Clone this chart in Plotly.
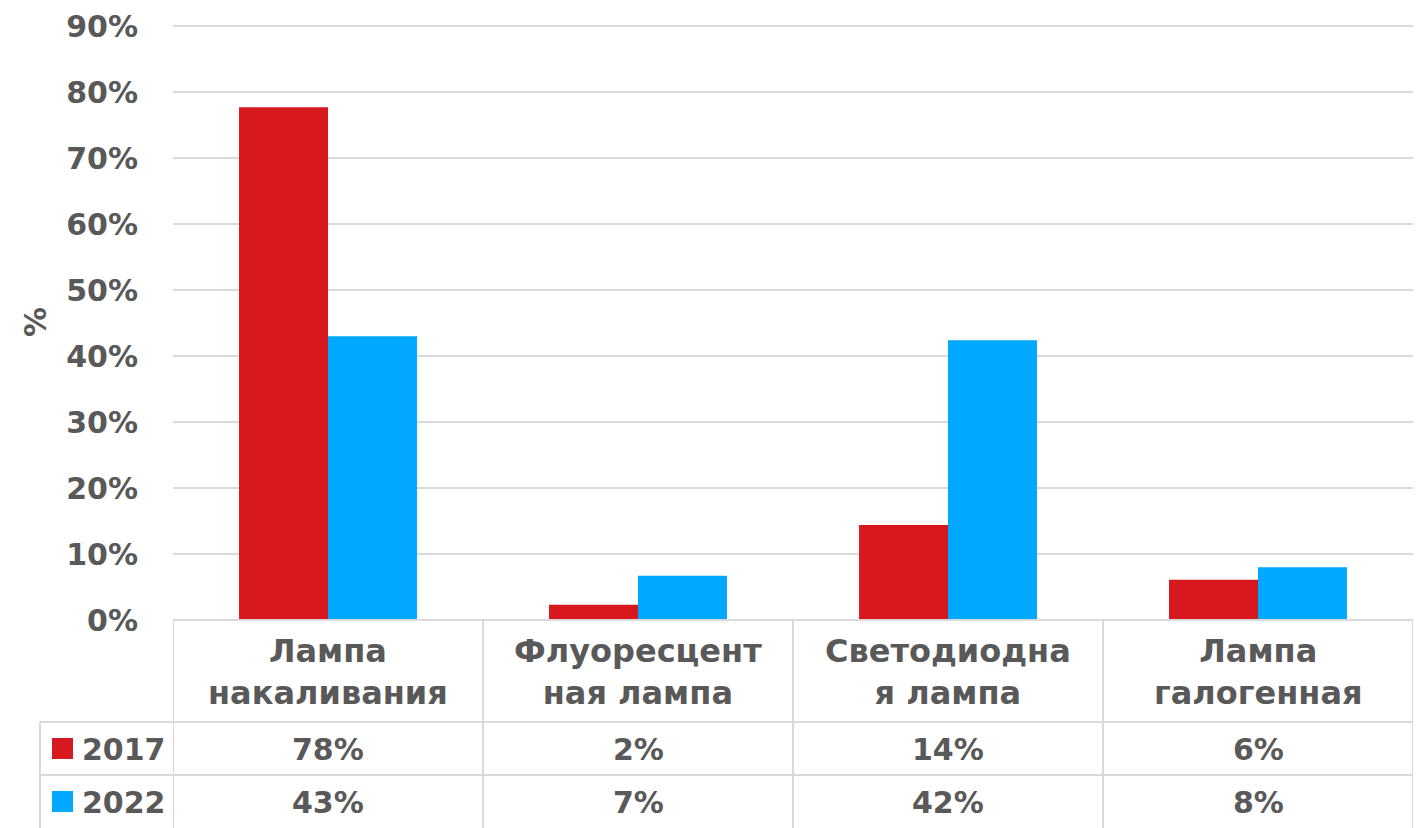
import plotly.graph_objects as go

categories = ["Лампа<br>накаливания", "Флуоресцент<br>ная лампа", "Светодиодна<br>я лампа", "Лампа<br>галогенная"]
series_names = ["2017", "2022"]
values_2017 = [0.777, 0.023, 0.144, 0.061]
values_2022 = [0.430, 0.067, 0.424, 0.080]
series_values = [values_2017, values_2022]
colors = ["#D7191F", "#00A9FF"]

TEXT = "#595959"
GRID = "#D9D9D9"
FONT = "DejaVu Sans"
OFF = 8  # page body margin
W, H = 1422 - OFF, 828 - OFF
PLOT_TOP = 23   # screenshot pixel of plot-area top
ZERO_Y = 620    # screenshot pixel of 0%
TOP90_Y = 26    # screenshot pixel of 90%
L, R, T, B = 173 - OFF, 9, PLOT_TOP - OFF, 828 - ZERO_Y
YMAX = 0.9 * (ZERO_Y - PLOT_TOP) / (ZERO_Y - TOP90_Y)


def py(pix):
    return (ZERO_Y - pix) / (ZERO_Y - PLOT_TOP)


def px(pix):
    return (pix - 173) / (W - L - R)


fig = go.Figure()
for name, vals, col in zip(series_names, series_values, colors):
    fig.add_trace(go.Bar(x=list(range(len(categories))), y=vals, name=name,
                         marker=dict(color=col, line=dict(width=0)), showlegend=False))

shapes = []
annotations = []
n = len(categories)
for i in range(n + 1):
    shapes.append(dict(type="line", xref="x", yref="paper", x0=i - 0.5, x1=i - 0.5,
                       y0=py(620), y1=py(830), line=dict(color=GRID, width=2)))
shapes.append(dict(type="line", xref="paper", yref="paper", x0=px(40), x1=px(40),
                   y0=py(722), y1=py(830), line=dict(color=GRID, width=2)))
shapes.append(dict(type="line", xref="paper", yref="paper", x0=0, x1=1,
                   y0=py(620), y1=py(620), line=dict(color=GRID, width=2)))
for yy in (722, 775):
    shapes.append(dict(type="line", xref="paper", yref="paper", x0=px(40), x1=1,
                       y0=py(yy), y1=py(yy), line=dict(color=GRID, width=2)))

fs = 30
def bold(s):
    return "<br>".join(f"<b>{p}</b>" for p in s.split("<br>"))

for i, c in enumerate(categories):
    annotations.append(dict(x=i, y=py(672), xref="x", yref="paper", text=bold(c), showarrow=False,
                            font=dict(family=FONT, size=32, color=TEXT), align="center",
                            yanchor="middle", xanchor="center"))
row_y = [749, 802]
for r, (name, vals, col) in enumerate(zip(series_names, series_values, colors)):
    for i, v in enumerate(vals):
        annotations.append(dict(x=i, y=py(row_y[r]), xref="x", yref="paper",
                                text=f"<b>{round(v * 100)}%</b>", showarrow=False,
                                font=dict(family=FONT, size=fs, color=TEXT),
                                yanchor="middle", xanchor="center"))
    annotations.append(dict(x=px(80), y=py(row_y[r]), xref="paper", yref="paper",
                            text=f"<b>{name}</b>", showarrow=False,
                            font=dict(family=FONT, size=fs, color=TEXT),
                            yanchor="middle", xanchor="left"))
    shapes.append(dict(type="rect", xref="paper", yref="paper", x0=px(52), x1=px(73),
                       y0=py(row_y[r] + 10), y1=py(row_y[r] - 11),
                       fillcolor=col, line=dict(width=0)))

annotations.append(dict(x=px(35), y=py(322), xref="paper", yref="paper", text="<b>%</b>",
                        textangle=-90, showarrow=False,
                        font=dict(family=FONT, size=fs, color=TEXT),
                        xanchor="center", yanchor="middle"))

fig.update_layout(
    width=W, height=H, autosize=False,
    margin=dict(l=L, r=R, t=T, b=B, autoexpand=False),
    paper_bgcolor="white", plot_bgcolor="white",
    barmode="group", bargap=0.426, bargroupgap=0,
    shapes=shapes, annotations=annotations,
    xaxis=dict(range=[-0.5, n - 0.5], showticklabels=False, showgrid=False,
               zeroline=False, showline=False, ticks="", automargin=False),
    yaxis=dict(range=[0, YMAX], tickvals=[i / 10 for i in range(10)], tickformat=".0%",
               showgrid=True, gridcolor=GRID, gridwidth=2, zeroline=False, showline=False,
               ticklabelstandoff=34, automargin=False,
               tickfont=dict(family=FONT, size=fs, color=TEXT, weight="bold")),
)

fig.write_html("out.html")
